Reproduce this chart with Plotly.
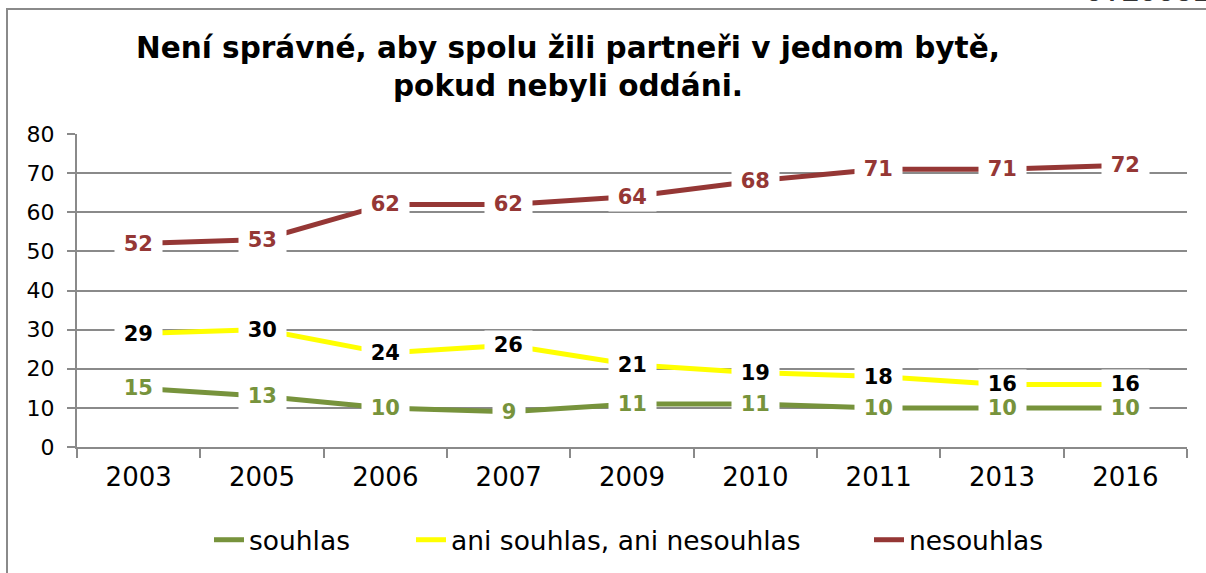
import plotly.graph_objects as go

years = ["2003", "2005", "2006", "2007", "2009", "2010", "2011", "2013", "2016"]
souhlas = [15, 13, 10, 9, 11, 11, 10, 10, 10]
ani = [29, 30, 24, 26, 21, 19, 18, 16, 16]
nesouhlas = [52, 53, 62, 62, 64, 68, 71, 71, 72]

series_names = ["souhlas", "ani souhlas, ani nesouhlas", "nesouhlas"]
series_values = [souhlas, ani, nesouhlas]
line_colors = ["#77933C", "#FFFF00", "#953735"]
label_colors = ["#77933C", "#000000", "#953735"]
y_ticks = [0, 10, 20, 30, 40, 50, 60, 70, 80]

FONT = "DejaVu Sans, Verdana, sans-serif"

# plot area in pixels
W, H = 1206, 573
L, R, T, B = 77, 1187, 134, 447
PW, PH = R - L, B - T


def px(xp):
    return (xp - L) / PW


def py(yp):
    return (B - yp) / PH


fig = go.Figure()
legends = ["legend", "legend2", "legend3"]
for name, vals, col, lg in zip(series_names, series_values, line_colors, legends):
    fig.add_trace(go.Scatter(
        x=years, y=vals, mode="lines", name=name,
        line=dict(color=col, width=5), legend=lg, hoverinfo="skip",
    ))

annotations = []
NB = "\u00a0"
# draw red, yellow, then green labels so lower labels sit on top
for idx in [2, 1, 0]:
    vals, col = series_values[idx], label_colors[idx]
    for i, v in enumerate(vals):
        annotations.append(dict(
            x=i, y=v, xref="x", yref="y", text=f"{NB}<b>{v}</b>{NB}",
            showarrow=False, font=dict(family=FONT, size=21, color=col),
            bgcolor="white", borderpad=2, xanchor="center", yanchor="middle",
        ))

# title (two lines)
annotations.append(dict(
    x=px(568), y=py(48), xref="paper", yref="paper",
    text="<b>Není správné, aby spolu žili partneři v jednom bytě,</b>",
    showarrow=False, font=dict(family=FONT, size=29.5, color="black"),
    xanchor="center", yanchor="middle",
))
annotations.append(dict(
    x=px(568), y=py(86), xref="paper", yref="paper",
    text="<b>pokud nebyli oddáni.</b>",
    showarrow=False, font=dict(family=FONT, size=29.5, color="black"),
    xanchor="center", yanchor="middle",
))
# clipped text at top right of the page
annotations.append(dict(
    x=px(1083), y=py(12), xref="paper", yref="paper",
    text="0.100518", showarrow=False,
    font=dict(family="Liberation Mono, monospace", size=30, color="#333"),
    xanchor="left", yanchor="bottom",
))

shapes = [dict(
    type="rect", xref="paper", yref="paper",
    x0=px(7), x1=px(1260), y0=py(620), y1=py(9),
    line=dict(color="#8a8a8a", width=2), fillcolor="rgba(0,0,0,0)", layer="below",
)]

leg_common = dict(orientation="h", font=dict(family=FONT, size=26.5, color="black"),
                  bgcolor="rgba(0,0,0,0)", yanchor="middle", xanchor="left",
                  itemwidth=30, tracegroupgap=0)

fig.update_layout(
    width=W, height=H,
    margin=dict(l=L, r=W - R, t=T, b=H - B, autoexpand=False),
    paper_bgcolor="white", plot_bgcolor="white",
    showlegend=True,
    legend=dict(x=px(209), y=py(540), **leg_common),
    legend2=dict(x=px(411), y=py(540), **leg_common),
    legend3=dict(x=px(869), y=py(540), **leg_common),
    annotations=annotations,
    shapes=shapes,
    font=dict(family=FONT),
    hovermode=False,
)
fig.update_xaxes(
    type="category", categoryorder="array", categoryarray=years,
    range=[-0.5, len(years) - 0.5],
    showline=True, linecolor="#8a8a8a", linewidth=2,
    ticks="outside", ticklen=9, tickcolor="#8a8a8a", tickwidth=2,
    tickson="boundaries", showgrid=False,
    tickfont=dict(family=FONT, size=26, color="black"),
    ticklabelstandoff=6,
)
fig.update_yaxes(
    range=[0, 80], tickvals=y_ticks, ticktext=[str(t) for t in y_ticks],
    showline=True, linecolor="#8a8a8a", linewidth=2,
    ticks="outside", ticklen=8, tickcolor="#8a8a8a", tickwidth=2,
    showgrid=True, gridcolor="#8a8a8a", gridwidth=2, zeroline=False,
    tickfont=dict(family=FONT, size=22, color="black"),
    ticklabelstandoff=8,
)

fig.write_html(
    "out.html",
    config={"displayModeBar": False, "staticPlot": True},
    post_script="document.body.style.margin='0';document.body.style.overflow='hidden';",
)
